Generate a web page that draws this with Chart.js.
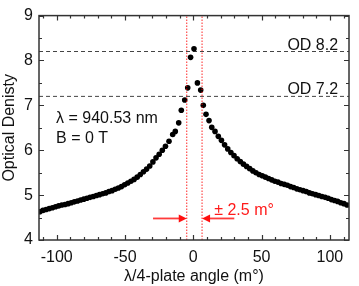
<!DOCTYPE html>
<html>
<head>
<meta charset="utf-8">
<script src="https://cdn.jsdelivr.net/npm/chart.js@4"></script>
<style>
  html, body { margin: 0; padding: 0; background: #fff; }
  #wrap { width: 359px; height: 286px; position: relative; }
</style>
</head>
<body>
<div id="wrap"><canvas id="odChart"></canvas></div>
<script>
// measured points: plate angle (m°) and optical density
var angles = [
    -112.4, -110.1, -107.8, -105.5, -103.2, -100.9, -98.6, -96.3, -94.0, -91.7,
    -89.4, -87.1, -84.8, -82.5, -80.2, -77.9, -75.6, -73.3, -71.0, -68.7,
    -66.4, -64.1, -61.8, -59.5, -57.2, -54.9, -52.6, -50.3, -48.0, -45.7,
    -43.4, -41.1, -38.8, -36.5, -34.2, -31.9, -29.6, -27.3, -25.0, -22.7,
    -20.4, -17.8, -15.1, -13.2, -10.7, -8.8, -6.3, -4.1, -2.0, 0.5,
    3.0, 5.4, 7.3, 9.3, 11.5, 13.5, 15.9, 18.3, 20.6, 22.9,
    25.2, 27.5, 29.8, 32.1, 34.4, 36.7, 39.0, 41.3, 43.6, 45.9,
    48.2, 50.5, 52.8, 55.1, 57.4, 59.7, 62.0, 64.3, 66.6, 68.9,
    71.2, 73.5, 75.8, 78.1, 80.4, 82.7, 85.0, 87.3, 89.6, 91.9,
    94.2, 96.5, 98.8, 101.1, 103.4, 105.7, 108.0, 110.3, 112.6
];
var opticalDensity = [
    4.63, 4.66, 4.68, 4.70, 4.72, 4.74, 4.76, 4.78, 4.79, 4.81,
    4.83, 4.85, 4.87, 4.89, 4.91, 4.93, 4.95, 4.97, 4.99, 5.01,
    5.03, 5.05, 5.08, 5.10, 5.13, 5.16, 5.19, 5.23, 5.27, 5.31,
    5.35, 5.40, 5.46, 5.52, 5.58, 5.65, 5.74, 5.83, 5.91, 6.00,
    6.09, 6.20, 6.35, 6.42, 6.61, 6.89, 7.12, 7.39, 8.07, 8.26,
    7.50, 7.34, 7.00, 6.80, 6.66, 6.51, 6.42, 6.31, 6.22, 6.12,
    6.03, 5.95, 5.88, 5.81, 5.75, 5.69, 5.64, 5.59, 5.54, 5.50,
    5.46, 5.43, 5.40, 5.37, 5.34, 5.31, 5.29, 5.26, 5.24, 5.22,
    5.19, 5.17, 5.14, 5.12, 5.10, 5.08, 5.05, 5.03, 5.01, 4.99,
    4.97, 4.95, 4.93, 4.90, 4.88, 4.86, 4.83, 4.81, 4.78
];

var xRange = [-113, 114];
var yRange = [4, 9];
var xTicks = [-100, -50, 0, 50, 100];
var yTicks = [4, 5, 6, 7, 8, 9];
var xMinorStep = 10;
var yMinorStep = 0.5;

var odLevels = [8.2, 7.2];
var odLabels = ['OD 8.2', 'OD 7.2'];
var windowEdges = [-4.8, 6.4];          // red dotted lines
var arrowLevel = 4.48;
var arrowTails = [-29.5, 30];           // arrows run from tail to window edge
var windowLabel = '± 2.5 m°';
var infoLines = ['λ = 940.53 nm', 'B = 0 T'];

var FONT = "'Liberation Sans', Arial, sans-serif";
Chart.defaults.font.family = FONT;
Chart.defaults.font.size = 16;
Chart.defaults.color = '#111';

var points = angles.map(function (a, i) { return { x: a, y: opticalDensity[i] }; });

var datasets = [{
    label: 'OD',
    data: points,
    showLine: false,
    pointRadius: 2.8,
    pointHoverRadius: 2.8,
    pointBorderWidth: 0,
    backgroundColor: '#000',
    borderColor: '#000',
    order: 2
}];

odLevels.forEach(function (lvl) {
    datasets.push({
        data: [{ x: xRange[0], y: lvl }, { x: xRange[1], y: lvl }],
        showLine: true,
        pointRadius: 0,
        borderColor: '#444',
        borderWidth: 1,
        borderDash: [4, 3],
        order: 3
    });
});

windowEdges.forEach(function (edge) {
    datasets.push({
        data: [{ x: edge, y: yRange[0] }, { x: edge, y: yRange[1] }],
        showLine: true,
        pointRadius: 0,
        borderColor: 'rgba(255, 0, 0, 0.85)',
        borderWidth: 1,
        borderDash: [1.5, 1.5],
        order: 1
    });
});

// frame with inward major/minor ticks on all four sides, plus text and arrows
var decorPlugin = {
    id: 'decor',
    afterDatasetsDraw: function (chart) {
        var ctx = chart.ctx;
        var a = chart.chartArea;
        var xs = chart.scales.x;
        var ys = chart.scales.y;
        ctx.save();

        // arrows
        ctx.strokeStyle = '#ff3b3b';
        ctx.fillStyle = '#ff1010';
        ctx.lineWidth = 1.8;
        var ay = ys.getPixelForValue(arrowLevel);
        arrowTails.forEach(function (tail, i) {
            var x0 = xs.getPixelForValue(tail);
            var x1 = xs.getPixelForValue(windowEdges[i]);
            var dir = x1 > x0 ? 1 : -1;
            ctx.beginPath();
            ctx.moveTo(x0, ay);
            ctx.lineTo(x1 - dir * 6, ay);
            ctx.stroke();
            ctx.beginPath();
            ctx.moveTo(x1, ay);
            ctx.lineTo(x1 - dir * 8, ay - 4);
            ctx.lineTo(x1 - dir * 8, ay + 4);
            ctx.closePath();
            ctx.fill();
        });

        // text
        ctx.font = '16px ' + FONT;
        ctx.textBaseline = 'alphabetic';
        ctx.fillStyle = '#111';
        ctx.textAlign = 'right';
        odLevels.forEach(function (lvl, i) {
            ctx.fillText(odLabels[i], xs.getPixelForValue(106), ys.getPixelForValue(lvl) - 2);
        });
        ctx.textAlign = 'left';
        ctx.fillText(infoLines[0], xs.getPixelForValue(-100.5), ys.getPixelForValue(6.6));
        ctx.fillText(infoLines[1], xs.getPixelForValue(-100.5), ys.getPixelForValue(6.16));
        ctx.fillStyle = '#ff1a1a';
        ctx.fillText(windowLabel, xs.getPixelForValue(15.3), ys.getPixelForValue(4.55));

        // ticks
        ctx.strokeStyle = '#333';
        ctx.lineWidth = 1.2;
        ctx.beginPath();
        for (var v = Math.ceil(xRange[0] / xMinorStep) * xMinorStep; v <= xRange[1]; v += xMinorStep) {
            var px = Math.round(xs.getPixelForValue(v)) + 0.5;
            var len = xTicks.indexOf(v) >= 0 ? 5 : 3;
            ctx.moveTo(px, a.bottom); ctx.lineTo(px, a.bottom - len);
            ctx.moveTo(px, a.top); ctx.lineTo(px, a.top + len);
        }
        for (var w = yRange[0]; w <= yRange[1]; w += yMinorStep) {
            var py = Math.round(ys.getPixelForValue(w)) + 0.5;
            var l2 = yTicks.indexOf(w) >= 0 ? 5 : 3;
            ctx.moveTo(a.left, py); ctx.lineTo(a.left + l2, py);
            ctx.moveTo(a.right, py); ctx.lineTo(a.right - l2, py);
        }
        ctx.stroke();

        ctx.lineWidth = 1.5;
        ctx.strokeRect(a.left, a.top, a.right - a.left, a.bottom - a.top);
        ctx.restore();
    }
};

new Chart(document.getElementById('odChart'), {
    type: 'scatter',
    data: { datasets: datasets },
    options: {
        responsive: true,
        maintainAspectRatio: false,
        animation: false,
        events: [],
        layout: { padding: { left: 0, top: 13, right: 10, bottom: 0 } },
        scales: {
            x: {
                type: 'linear',
                min: xRange[0],
                max: xRange[1],
                afterBuildTicks: function (s) {
                    s.ticks = xTicks.map(function (v) { return { value: v }; });
                },
                afterFit: function (s) { s.height = 46; },
                grid: { display: false, drawTicks: false },
                border: { display: false },
                ticks: { padding: 8, color: '#111', maxRotation: 0 },
                title: {
                    display: true,
                    text: 'λ/4-plate angle (m°)',
                    color: '#111',
                    padding: { top: 0, bottom: 0 }
                }
            },
            y: {
                type: 'linear',
                min: yRange[0],
                max: yRange[1],
                afterBuildTicks: function (s) {
                    s.ticks = yTicks.map(function (v) { return { value: v }; });
                },
                afterFit: function (s) { s.width = 39; },
                grid: { display: false, drawTicks: false },
                border: { display: false },
                ticks: { padding: 6, color: '#111' },
                title: {
                    display: true,
                    text: 'Optical Denisty',
                    color: '#111',
                    padding: { top: 0, bottom: 0 }
                }
            }
        },
        plugins: {
            legend: { display: false },
            tooltip: { enabled: false }
        }
    },
    plugins: [decorPlugin]
});
</script>
</body>
</html>
